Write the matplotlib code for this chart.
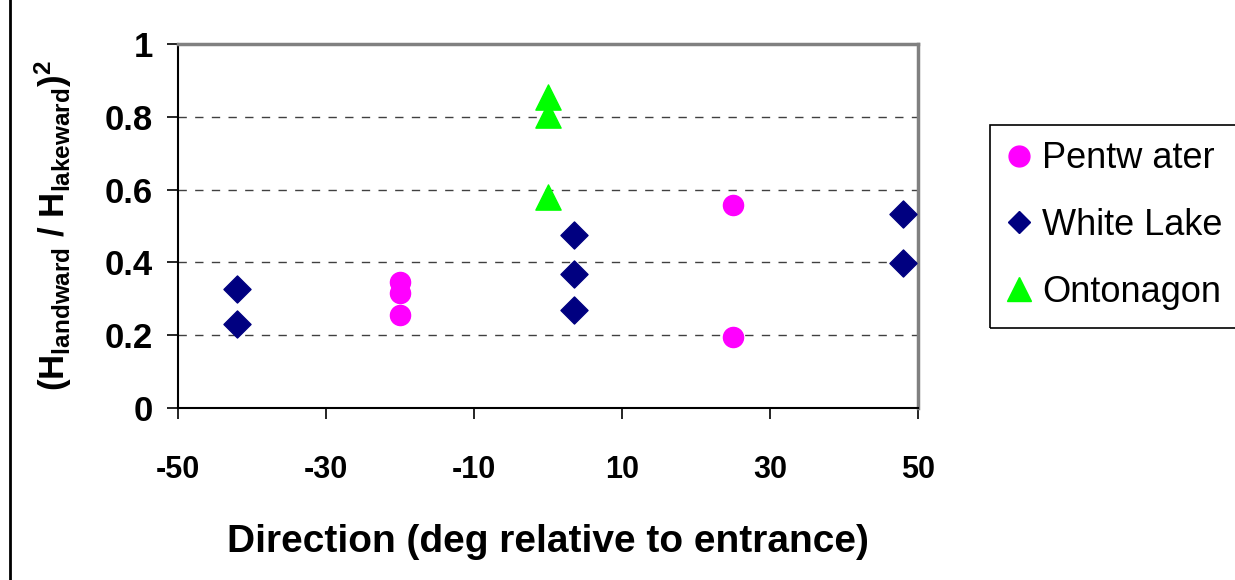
import matplotlib.pyplot as plt
from matplotlib.lines import Line2D
from matplotlib.patches import Rectangle

plt.rcParams['font.family'] = ['Liberation Sans', 'DejaVu Sans']
plt.rcParams['mathtext.default'] = 'regular'

# data
pent_x = [-20, -20, -20, 25, 25]
pent_y = [0.345, 0.315, 0.255, 0.558, 0.195]
white_x = [-42, -42, 3.5, 3.5, 3.5, 48, 48]
white_y = [0.328, 0.231, 0.475, 0.368, 0.269, 0.533, 0.398]
onto_x = [0, 0, 0]
onto_y = [0.855, 0.805, 0.58]

xticks = [-50, -30, -10, 10, 30, 50]
xtick_labels = ["-50", "-30", "-10", "10", "30", "50"]
yticks = [0, 0.2, 0.4, 0.6, 0.8, 1]
ytick_labels = ["0", "0.2", "0.4", "0.6", "0.8", "1"]

fig = plt.figure(figsize=(12.35, 5.8), dpi=100)
ax = fig.add_axes([0.1441, 0.2966, 0.5992, 0.6275])

ax.scatter(pent_x, pent_y, marker="o", s=210, color="#ff00ff", zorder=3)
ax.scatter(white_x, white_y, marker="D", s=190, color="#000080", zorder=3)
ax.scatter(onto_x, onto_y, marker="^", s=330, color="#00ff00", zorder=3)

ax.set_xlim(-50, 50)
ax.set_ylim(0, 1)
ax.set_xticks(xticks)
ax.set_xticklabels(xtick_labels)
ax.set_yticks(yticks)
ax.set_yticklabels(ytick_labels)
ax.tick_params(axis="both", direction="out", length=8, width=1.2)
ax.tick_params(axis="y", labelsize=25, pad=10)
ax.tick_params(axis="x", labelsize=22, pad=26)
for lbl in ax.get_xticklabels() + ax.get_yticklabels():
    lbl.set_fontweight("bold")

for y in yticks[1:-1]:
    ax.axhline(y, color="#404040", ls=(0, (6, 6)), lw=1, zorder=1)

ax.spines["left"].set_color("black")
ax.spines["bottom"].set_color("black")
ax.spines["left"].set_linewidth(1.5)
ax.spines["bottom"].set_linewidth(1.5)
ax.spines["top"].set_color("#808080")
ax.spines["right"].set_color("#808080")
ax.spines["top"].set_linewidth(2.5)
ax.spines["right"].set_linewidth(2.5)

ax.set_xlabel("Direction (deg relative to entrance)", fontsize=28, fontweight="bold", labelpad=28)
ax.set_ylabel(r"(H$_{landward}$ / H$_{lakeward}$)$^2$", fontsize=25, fontweight="bold", labelpad=22)

handles = [
    Line2D([], [], marker="o", ls="", color="#ff00ff", markersize=15),
    Line2D([], [], marker="D", ls="", color="#000080", markersize=11),
    Line2D([], [], marker="^", ls="", color="#00ff00", markersize=17),
]
leg = fig.legend(handles, ["Pentw ater", "White Lake", "Ontonagon"],
                 loc="upper left", bbox_to_anchor=(990 / 1235, 1 - 125 / 580),
                 fontsize=26, frameon=False,
                 handletextpad=0.3, handlelength=0.7, labelspacing=0.88,
                 borderpad=0.45, borderaxespad=0)

# legend box runs off the right edge of the image
fig.add_artist(Rectangle((990 / 1235, 1 - 328 / 580), 260 / 1235, 203 / 580,
                         transform=fig.transFigure, fill=False, edgecolor="black", lw=1.2))

fig.add_artist(Line2D([10 / 1235, 10 / 1235], [0, 1], color="black", lw=2, transform=fig.transFigure))

fig.savefig("out.png", dpi=100)
